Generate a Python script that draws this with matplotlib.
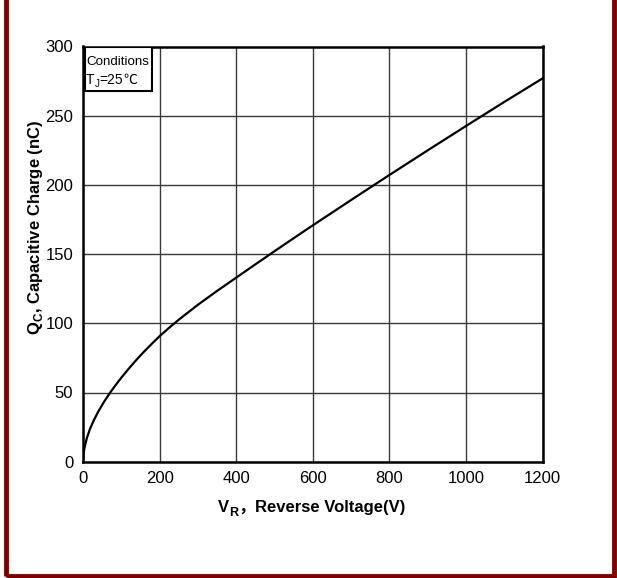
import matplotlib
matplotlib.use("Agg")
import matplotlib.pyplot as plt
from matplotlib.patches import Rectangle

plt.rcParams["font.family"] = ["Liberation Sans", "DejaVu Sans", "Noto Sans CJK SC"]
plt.rcParams["mathtext.fontset"] = "custom"
plt.rcParams["mathtext.rm"] = "Liberation Sans"
plt.rcParams["mathtext.bf"] = "Liberation Sans:bold"

# Capacitive charge vs reverse voltage
voltage = [0, 2, 5, 10, 18, 28, 40, 55, 70, 85, 100, 120, 140, 160, 180, 200,
           225, 250, 300, 350, 400, 450, 500, 550, 600, 700, 800, 900, 1000, 1100, 1200]
charge = [0, 7, 11.5, 17, 23.5, 29.8, 36.3, 43.3, 49.6, 55.3, 60.7, 67.4, 73.8, 79.7, 85.3, 90.7,
          96.8, 102.6, 113.4, 123.4, 133, 142.6, 152.1, 161.5, 170.8, 189.1, 207.2, 225, 242.6, 260, 277]

x_ticks = [0, 200, 400, 600, 800, 1000, 1200]
y_ticks = [0, 50, 100, 150, 200, 250, 300]

W, H = 617, 578
fig = plt.figure(figsize=(W / 100, H / 100), dpi=100)
fig.patch.set_facecolor("white")

ax = fig.add_axes([83 / W, 1 - 461.7 / H, (542.7 - 83) / W, (461.7 - 46.5) / H])
ax.plot(voltage, charge, color="black", lw=1.6, solid_capstyle="round",
        solid_joinstyle="round", zorder=3)

ax.set_xlim(0, 1200)
ax.set_ylim(0, 300)
ax.set_xticks(x_ticks)
ax.set_yticks(y_ticks)
ax.tick_params(length=0, labelsize=12, pad=7)
ax.grid(True, color="#3a3a3a", lw=1.0)
ax.set_axisbelow(True)
for sp in ax.spines.values():
    sp.set_color("black")
    sp.set_linewidth(1.8)

# y-axis label
ax.set_ylabel(r"Q$_\mathbf{C}$, Capacitive Charge (nC)", fontsize=12, fontweight="bold")
ax.yaxis.set_label_coords((45 - 83) / (542.7 - 83), (461.7 - 227) / (461.7 - 46.5))

# Conditions box
ax.add_patch(Rectangle((0.004, 0.893), 0.146, 0.105, transform=ax.transAxes,
                       facecolor="white", edgecolor="black", lw=1.5, zorder=4))
ax.text(0.007, 0.978, "Conditions", transform=ax.transAxes, fontsize=9.6,
        va="top", ha="left", zorder=5)

fig.canvas.draw()
renderer = fig.canvas.get_renderer()
inv = fig.transFigure.inverted()


def place_after(prev, s, dy_px=0.0, **kw):
    bb = prev.get_window_extent(renderer)
    x0, _ = inv.transform((bb.x1, 0))
    _, yb = inv.transform((0, base_px + dy_px))
    return fig.text(x0, yb, s, va="baseline", ha="left", **kw)


# T_J=25℃ line
base_px = H - 84.0
t1 = fig.text(86 / W, base_px / H, "T", fontsize=10, va="baseline", ha="left", zorder=5)
fig.canvas.draw()
t2 = place_after(t1, "J", dy_px=-3.5, fontsize=7, zorder=5)
fig.canvas.draw()
t3 = place_after(t2, "=25", fontsize=10, zorder=5)
fig.canvas.draw()
t4 = place_after(t3, "\u2103", fontsize=10, zorder=5,
                 family=["Noto Sans CJK SC", "DejaVu Sans"])

# x-axis label assembled from pieces
base_px = H - 512.0
p1 = fig.text(0, base_px / H, "V", fontsize=12, fontweight="bold", va="baseline", ha="left")
fig.canvas.draw()
p2 = place_after(p1, "R", dy_px=-4.0, fontsize=9, fontweight="bold")
fig.canvas.draw()
p3 = place_after(p2, "\uff0c", fontsize=12, fontweight="bold",
                 family=["Noto Sans CJK SC", "DejaVu Sans"])
fig.canvas.draw()
p4 = place_after(p3, "Reverse Voltage(V)", fontsize=12, fontweight="bold")
fig.canvas.draw()
pieces = [p1, p2, p3, p4]
left = min(p.get_window_extent(renderer).x0 for p in pieces)
right = max(p.get_window_extent(renderer).x1 for p in pieces)
shift = 311.5 - (left + right) / 2
for p in pieces:
    x, y = p.get_position()
    p.set_position((x + shift / W, y))

# dark red frame around the figure
frame_col = "#7f0000"
fig.patches.append(Rectangle((5.5 / W, 2.0 / H), (614 - 5.5) / W, 1.2,
                             transform=fig.transFigure, fill=False,
                             edgecolor=frame_col, lw=3.5, zorder=10))

fig.savefig("out.png", dpi=100)
